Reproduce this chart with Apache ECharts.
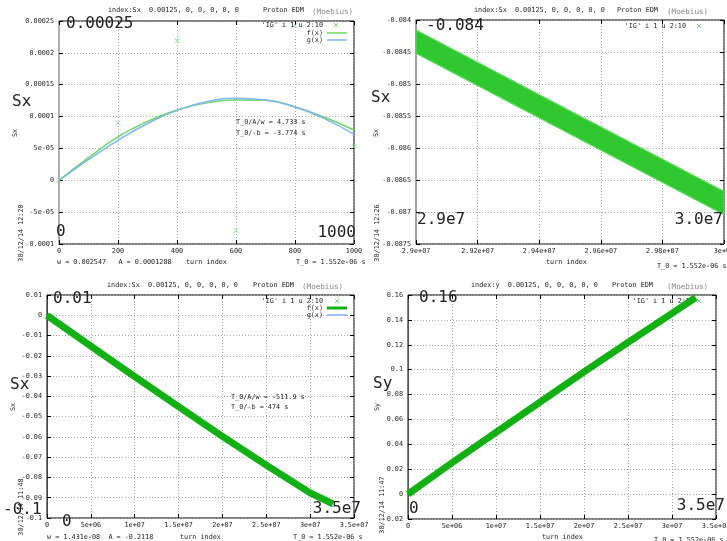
<!DOCTYPE html>
<html><head><meta charset="utf-8">
<script src="https://cdn.jsdelivr.net/npm/echarts@6/dist/echarts.min.js"></script>
<style>html,body{margin:0;padding:0;background:#fff}#c{width:727px;height:541px}</style>
</head><body><div id="c"></div>
<script>
// ---------- data ----------
// Panel 1 (Sx, turns 0..1000)
const p1X = [0, 100, 200, 300, 400, 500, 600, 700, 800, 900, 1000];
const p1F = [0, 3.55e-5, 6.8e-5, 9.25e-5, 1.1e-4, 1.215e-4, 1.262e-4, 1.255e-4, 1.15e-4, 0.99e-4, 7.9e-5];
const p1G = [0, 3.25e-5, 6.28e-5, 8.91e-5, 1.097e-4, 1.232e-4, 1.287e-4, 1.259e-4, 1.15e-4, 9.67e-5, 7.21e-5];
const p1IGX = [0, 200, 400, 600, 800, 1000];
const p1IGY = [0, 9.0e-5, 2.19e-4, -7.9e-5, 2.43e-4, 5.3e-5];
const p1XTicks = ['0', '200', '400', '600', '800', '1000'];
const p1YTicks = ['-0.0001', '-5e-05', '0', '5e-05', '0.0001', '0.00015', '0.0002', '0.00025'];

// Panel 2 (Sx band, turns 2.9e7..3.0e7)
const p2X = [2.9e7, 2.95e7, 3.0e7];
const p2Upper = [-0.084156, -0.085420, -0.08668];
const p2Lower = [-0.084520, -0.085780, -0.08704];
const p2XTicks = ['2.9e+07', '2.92e+07', '2.94e+07', '2.96e+07', '2.98e+07', '3e+07'];
const p2YTicks = ['-0.0875', '-0.087', '-0.0865', '-0.086', '-0.0855', '-0.085', '-0.0845', '-0.084'];

// Panel 3 (Sx, turns 0..3.26e7)
const p3X = [0, 5e6, 1e7, 1.5e7, 2e7, 2.5e7, 3e7, 3.26e7];
const p3F = [0, -0.0152, -0.0303, -0.0451, -0.0597, -0.0739, -0.0876, -0.0930];
const p3G = [0, -0.0151, -0.0302, -0.0451, -0.0598, -0.0742, -0.0882, -0.0945];
const p3XTicks = ['0', '5e+06', '1e+07', '1.5e+07', '2e+07', '2.5e+07', '3e+07', '3.5e+07'];
const p3YTicks = ['-0.1', '-0.09', '-0.08', '-0.07', '-0.06', '-0.05', '-0.04', '-0.03', '-0.02', '-0.01', '0', '0.01'];

// Panel 4 (Sy, turns 0..3.27e7)
const p4X = [0, 5e6, 1e7, 1.5e7, 2e7, 2.5e7, 3e7, 3.27e7];
const p4Y = [0, 0.0252, 0.0497, 0.0740, 0.0982, 0.1220, 0.1452, 0.1580];
const p4XTicks = ['0', '5e+06', '1e+07', '1.5e+07', '2e+07', '2.5e+07', '3e+07', '3.5e+07'];
const p4YTicks = ['-0.02', '0', '0.02', '0.04', '0.06', '0.08', '0.1', '0.12', '0.14', '0.16'];

// ---------- styling / layout ----------
const MONO = '"DejaVu Sans Mono", monospace';
const SMALL = 6.8;
const BIG = 16;
const GREEN_PT = '#7bd87b';
const F_GREEN = '#6ad66a';
const G_BLUE = '#80b4f2';
const THICK_GREEN = '#12b012';

const grids = [
  {left: 59, top: 21, width: 295, height: 223},
  {left: 416, top: 20, width: 308, height: 224},
  {left: 47, top: 295, width: 307, height: 223},
  {left: 408, top: 295, width: 308, height: 224}
].map(g => Object.assign({show: true, borderColor: '#000', borderWidth: 1, backgroundColor: 'transparent', outerBoundsMode: 'none'}, g));

function lab(labels, min, interval) {
  return v => { const i = Math.round((v - min) / interval); return labels[i] !== undefined ? labels[i] : ''; };
}
const splitStyle = {show: true, lineStyle: {color: '#a8a8a8', type: [1, 2], width: 1}};
const tickStyle = {show: true, inside: true, length: 4, lineStyle: {color: '#000'}};
function xAx(gi, min, max, interval, labels) {
  return {gridIndex: gi, type: 'value', min, max, interval, position: 'bottom',
    axisLine: {show: false, onZero: false},
    axisTick: tickStyle,
    axisLabel: {show: true, fontSize: SMALL, fontFamily: MONO, color: '#222', margin: 4, formatter: lab(labels, min, interval)},
    splitLine: splitStyle};
}
function xMirror(gi, min, max, interval) {
  return {gridIndex: gi, type: 'value', min, max, interval, position: 'top',
    axisLine: {show: false, onZero: false}, axisTick: tickStyle,
    axisLabel: {show: false}, splitLine: {show: false}};
}
function yAx(gi, min, max, interval, labels, lineColor, lineWidth) {
  return {gridIndex: gi, type: 'value', min, max, interval, position: 'left',
    axisLine: {show: true, onZero: false, lineStyle: {color: lineColor, width: lineWidth}},
    axisTick: tickStyle,
    axisLabel: {show: true, fontSize: SMALL, fontFamily: MONO, color: '#222', margin: 5, formatter: lab(labels, min, interval)},
    splitLine: splitStyle};
}
function yMirror(gi, min, max, interval) {
  return {gridIndex: gi, type: 'value', min, max, interval, position: 'right',
    axisLine: {show: false, onZero: false}, axisTick: tickStyle,
    axisLabel: {show: false}, splitLine: {show: false}};
}

const xAxes = [
  xAx(0, 0, 1000, 200, p1XTicks),
  xAx(1, 2.9e7, 3.0e7, 2e5, p2XTicks),
  xAx(2, 0, 3.5e7, 5e6, p3XTicks),
  xAx(3, 0, 3.5e7, 5e6, p4XTicks),
  xMirror(0, 0, 1000, 200),
  xMirror(1, 2.9e7, 3.0e7, 2e5),
  xMirror(2, 0, 3.5e7, 5e6),
  xMirror(3, 0, 3.5e7, 5e6)
];
const yAxes = [
  yAx(0, -0.0001, 0.00025, 0.00005, p1YTicks, '#b0b0b0', 2),
  yAx(1, -0.0875, -0.084, 0.0005, p2YTicks, '#a0a0a0', 2),
  yAx(2, -0.1, 0.01, 0.01, p3YTicks, '#444', 1),
  yAx(3, -0.02, 0.16, 0.02, p4YTicks, '#555', 1),
  yMirror(0, -0.0001, 0.00025, 0.00005),
  yMirror(1, -0.0875, -0.084, 0.0005),
  yMirror(2, -0.1, 0.01, 0.01),
  yMirror(3, -0.02, 0.16, 0.02)
];

const crossPath = 'path://M0,0L10,10M10,0L0,10';
const zip = (a, b) => a.map((v, i) => [v, b[i]]);

const series = [
  {name: 'f(x)', type: 'line', xAxisIndex: 0, yAxisIndex: 0, data: zip(p1X, p1F), smooth: true, showSymbol: false,
    lineStyle: {color: F_GREEN, width: 1.5}, z: 3},
  {name: 'g(x)', type: 'line', xAxisIndex: 0, yAxisIndex: 0, data: zip(p1X, p1G), smooth: true, showSymbol: false,
    lineStyle: {color: G_BLUE, width: 1.5}, z: 3},
  {name: "'IG' i 1 u 2:10", type: 'scatter', xAxisIndex: 0, yAxisIndex: 0, data: zip(p1IGX, p1IGY),
    symbol: crossPath, symbolSize: 5, itemStyle: {color: 'none', borderColor: GREEN_PT, borderWidth: 1}, z: 4},
  {name: "'IG' band", type: 'custom', xAxisIndex: 1, yAxisIndex: 1, data: [[2.95e7, -0.0855]], clip: true,
    renderItem: (params, api) => {
      const pts = [];
      for (let i = 0; i < p2X.length; i++) pts.push(api.coord([p2X[i], p2Upper[i]]));
      for (let i = p2X.length - 1; i >= 0; i--) pts.push(api.coord([p2X[i], p2Lower[i]]));
      return {type: 'polygon', shape: {points: pts}, style: {fill: '#2fc82f', stroke: '#5cd85c', lineWidth: 1.2}};
    }, z: 3},
  {name: 'g(x) 3', type: 'line', xAxisIndex: 2, yAxisIndex: 2, data: zip(p3X, p3G), smooth: false, showSymbol: false,
    lineStyle: {color: G_BLUE, width: 1.5}, z: 2},
  {name: 'f(x) 3', type: 'line', xAxisIndex: 2, yAxisIndex: 2, data: zip(p3X, p3F), smooth: false, showSymbol: false,
    lineStyle: {color: THICK_GREEN, width: 7, join: 'round'}, z: 3},
  {name: 'Sy', type: 'line', xAxisIndex: 3, yAxisIndex: 3, data: zip(p4X, p4Y), smooth: false, showSymbol: false,
    lineStyle: {color: THICK_GREEN, width: 7, join: 'round'}, z: 3}
];

// ---------- texts ----------
function T(x, y, text, o = {}) {
  return {type: 'text', x, y, z: o.z !== undefined ? o.z : 10, rotation: o.rot || 0,
    style: {text, fill: o.color || '#222', fontSize: o.size || SMALL, fontFamily: MONO,
      align: o.align || 'left', verticalAlign: 'middle'}};
}
function Big(x, y, text, align) { return T(x, y, text, {size: BIG, align: align || 'left', color: '#222', z: 50}); }
function cross(cx, cy, color) {
  return {type: 'group', z: 10, children: [
    {type: 'line', shape: {x1: cx - 2, y1: cy - 2, x2: cx + 2, y2: cy + 2}, style: {stroke: color, lineWidth: 1}},
    {type: 'line', shape: {x1: cx + 2, y1: cy - 2, x2: cx - 2, y2: cy + 2}, style: {stroke: color, lineWidth: 1}}
  ]};
}
function seg(x1, x2, y, color, w) { return {type: 'line', z: 10, shape: {x1, y1: y, x2, y2: y}, style: {stroke: color, lineWidth: w}}; }
const ROT = Math.PI / 2;

const graphics = [
  // Panel 1
  T(108, 10, 'index:Sx  0.00125, 0, 0, 0, 0, 0'),
  T(263, 10, 'Proton EDM'),
  T(312, 12, '(Moebius)', {color: '#888', size: 7.6}),
  T(323, 25, "'IG' i 1 u 2:10", {align: 'right'}), cross(336, 25, GREEN_PT),
  T(323, 33, 'f(x)', {align: 'right'}), seg(327, 347, 33, F_GREEN, 1.5),
  T(323, 40, 'g(x)', {align: 'right'}), seg(327, 347, 40, G_BLUE, 1.5),
  T(236, 122, 'T_0/A/w = 4.733 s'),
  T(236, 133, 'T_0/-b = -3.774 s'),
  T(15, 133, 'Sx', {rot: ROT, align: 'center'}),
  T(21, 233, '30/12/14 12:20', {rot: ROT, align: 'center'}),
  T(57, 262, 'w = 0.002547   A = 0.0001288'),
  T(186, 262, 'turn index'),
  T(296, 262, 'T_0 = 1.552e-06 s'),
  Big(66, 24, '0.00025'), Big(12, 102, 'Sx'), Big(56, 232, '0'), Big(356, 233, '1000', 'right'),
  // Panel 2
  T(474, 10, 'index:Sx  0.00125, 0, 0, 0, 0, 0'),
  T(617, 10, 'Proton EDM'),
  T(667, 12, '(Moebius)', {color: '#888', size: 7.6}),
  T(686, 26, "'IG' i 1 u 2:10", {align: 'right'}), cross(699, 26, GREEN_PT),
  T(376, 133, 'Sx', {rot: ROT, align: 'center'}),
  T(377, 233, '30/12/14 12:26', {rot: ROT, align: 'center'}),
  T(546, 262, 'turn index'),
  T(657, 266, 'T_0 = 1.552e-06 s'),
  Big(426, 26, '-0.084'), Big(371, 98, 'Sx'), Big(417, 220, '2.9e7'), Big(723, 220, '3.0e7', 'right'),
  // Panel 3
  T(107, 285, 'index:Sx  0.00125, 0, 0, 0, 0, 0'),
  T(253, 285, 'Proton EDM'),
  T(302, 287, '(Moebius)', {color: '#888', size: 7.6}),
  T(323, 301, "'IG' i 1 u 2:10", {align: 'right'}), cross(337, 301, GREEN_PT),
  T(323, 308, 'f(x)', {align: 'right'}), seg(327, 347, 308, THICK_GREEN, 3),
  T(323, 315, 'g(x)', {align: 'right'}), seg(327, 347, 315, G_BLUE, 1.5),
  T(231, 397, 'T_0/A/w = -511.9 s'),
  T(231, 407, 'T_0/-b = 474 s'),
  T(13, 407, 'Sx', {rot: ROT, align: 'center'}),
  T(21, 507, '30/12/14 11:48', {rot: ROT, align: 'center'}),
  T(47, 537, 'w = 1.431e-08  A = -0.2118'),
  T(180, 537, 'turn index'),
  T(293, 537, 'T_0 = 1.552e-06 s'),
  Big(53, 299, '0.01'), Big(10, 385, 'Sx'), Big(3, 510, '-0.1'), Big(62, 522, '0'), Big(361, 509, '3.5e7', 'right'),
  // Panel 4
  T(471, 285, 'index:y  0.00125, 0, 0, 0, 0, 0'),
  T(612, 285, 'Proton EDM'),
  T(667, 287, '(Moebius)', {color: '#888', size: 7.6}),
  T(694, 301, "'IG' i 1 u 2:10", {align: 'right', z: 1}), cross(699, 301, GREEN_PT),
  T(377, 407, 'Sy', {rot: ROT, align: 'center'}),
  T(382, 505, '30/12/14 11:47', {rot: ROT, align: 'center'}),
  T(542, 537, 'turn index'),
  T(654, 540, 'T_0 = 1.552e-06 s'),
  Big(419, 298, '0.16'), Big(373, 384, 'Sy'), Big(409, 509, '0'), Big(725, 506, '3.5e7', 'right')
];

const chart = echarts.init(document.getElementById('c'), null, {renderer: 'canvas'});
chart.setOption({
  animation: false,
  backgroundColor: '#fff',
  grid: grids,
  xAxis: xAxes,
  yAxis: yAxes,
  series: series,
  graphic: graphics
});
</script>
</body></html>
